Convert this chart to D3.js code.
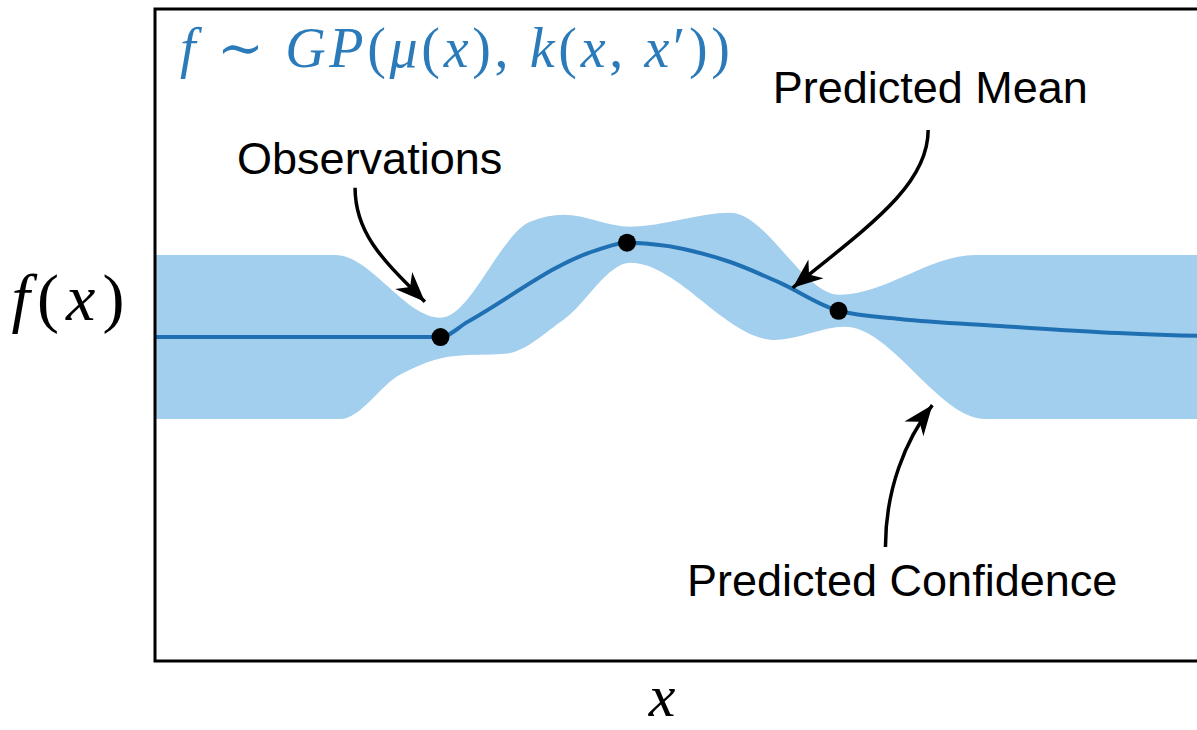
<!DOCTYPE html>
<html>
<head>
<meta charset="utf-8">
<script src="https://cdn.jsdelivr.net/npm/d3@7"></script>
<style>
  body { margin: 0; background: #fff; }
  svg { display: block; }
</style>
</head>
<body>
<div id="chart"></div>
<script>
// mean of the GP (knots)
var meanX = [0, 2.74, 3.00, 4.24, 4.53, 5.52, 6.00, 6.56, 7.15, 8.11, 9.07, 10];
var meanY = [0, 0, 0.37, 2.12, 2.30, 1.83, 1.32, 0.64, 0.44, 0.27, 0.12, 0.03];

// upper edge of the confidence band
var upperX = [0, 1.73, 2.74, 3.60, 3.92, 4.56, 5.52, 6.57, 7.87, 10];
var upperY = [2.0, 2.0, 0.47, 2.81, 2.98, 2.69, 3.03, 1.03, 2.0, 2.0];

// lower edge of the confidence band
var lowerX = [0, 1.78, 2.35, 2.88, 3.36, 3.92, 4.56, 5.95, 6.62, 7.97, 10];
var lowerY = [-2.0, -2.0, -0.92, -0.46, -0.41, 0.42, 1.81, -0.07, 0.25, -2.0, -2.0];

// observed points
var obsX = [2.74, 4.53, 6.56];
var obsY = [0, 2.30, 0.64];

// annotations: label position and arrow (start, two controls, tip)
var annoText = ["Observations", "Predicted Mean", "Predicted Confidence"];
var annoPos = [[2.06, 3.98], [7.44, 5.71], [7.17, -6.31]];
var annoArrow = [
    [[1.92, 3.64], [1.92, 2.49], [2.21, 1.83], [2.59, 0.86]],
    [[7.42, 5.05], [7.42, 3.71], [6.86, 2.73], [6.12, 1.20]],
    [[7.01, -5.12], [7.01, -3.73], [7.20, -2.51], [7.46, -1.66]]
];

var width = 1197, height = 730;
var plot = {left: 155, top: 9, bottom: 661};

var x = d3.scaleLinear().domain([0, 10]).range([plot.left, 1197]);
var y = d3.scaleLinear().domain([-7.9, 8]).range([plot.bottom, plot.top]);

var svg = d3.select("#chart").append("svg")
    .attr("width", width)
    .attr("height", height);

var defs = svg.append("defs");
defs.append("marker")
    .attr("id", "head")
    .attr("markerUnits", "userSpaceOnUse")
    .attr("viewBox", "-32 -14 34 28")
    .attr("markerWidth", 34)
    .attr("markerHeight", 28)
    .attr("refX", 0)
    .attr("refY", 0)
    .attr("orient", "auto")
    .append("path")
    .attr("d", "M0,0 L-30,-12 L-21,0 L-30,12 Z")
    .attr("fill", "#000");

var line = d3.line().curve(d3.curveMonotoneX);

// confidence band = region above the lower edge, clipped to below the upper edge
var upperPts = upperX.map(function(d, i){ return [x(d), y(upperY[i])]; });
var lowerPts = lowerX.map(function(d, i){ return [x(d), y(lowerY[i])]; });
defs.append("clipPath").attr("id", "belowUpper")
    .append("path")
    .attr("d", line(upperPts) + "L" + x(10) + "," + plot.bottom + "L" + x(0) + "," + plot.bottom + "Z");
svg.append("path")
    .attr("clip-path", "url(#belowUpper)")
    .attr("fill", "#a3cfee")
    .attr("d", line(lowerPts) + "L" + x(10) + "," + plot.top + "L" + x(0) + "," + plot.top + "Z");

// mean line
var meanPts = meanX.map(function(d, i){ return [x(d), y(meanY[i])]; });
svg.append("path")
    .attr("d", line(meanPts))
    .attr("fill", "none")
    .attr("stroke", "#1f70b3")
    .attr("stroke-width", 4);

// observations
svg.selectAll("circle.obs")
    .data(obsX)
    .enter()
    .append("circle")
    .attr("class", "obs")
    .attr("cx", function(d){ return x(d); })
    .attr("cy", function(d, i){ return y(obsY[i]); })
    .attr("r", 9)
    .attr("fill", "#000");

// arrows
svg.selectAll("path.arrow")
    .data(annoArrow)
    .enter()
    .append("path")
    .attr("class", "arrow")
    .attr("d", function(a){
        var p = d3.path();
        p.moveTo(x(a[0][0]), y(a[0][1]));
        p.bezierCurveTo(x(a[1][0]), y(a[1][1]), x(a[2][0]), y(a[2][1]), x(a[3][0]), y(a[3][1]));
        return p.toString();
    })
    .attr("fill", "none")
    .attr("stroke", "#000")
    .attr("stroke-width", 3.5)
    .attr("marker-end", "url(#head)");

svg.selectAll("text.anno")
    .data(annoText)
    .enter()
    .append("text")
    .attr("class", "anno")
    .attr("x", function(d, i){ return x(annoPos[i][0]); })
    .attr("y", function(d, i){ return y(annoPos[i][1]); })
    .attr("text-anchor", "middle")
    .attr("font-family", "'Liberation Sans', Arial, sans-serif")
    .attr("font-size", "45px")
    .attr("fill", "#000")
    .text(function(d){ return d; });

// frame (right side runs off the picture)
svg.append("rect")
    .attr("x", plot.left)
    .attr("y", plot.top)
    .attr("width", 1200 - plot.left)
    .attr("height", plot.bottom - plot.top)
    .attr("fill", "none")
    .attr("stroke", "#000")
    .attr("stroke-width", 3);

// math title
var serif = "'Liberation Serif', 'DejaVu Serif', serif";
var title = svg.append("text")
    .attr("x", plot.left + 25)
    .attr("y", 67)
    .attr("font-family", serif)
    .attr("font-size", "56px")
    .attr("fill", "#2b7bba")
    .attr("textLength", 550)
    .attr("lengthAdjust", "spacing");
var parts = [["f", 1], [" \u223C ", 0], ["GP", 1], ["(", 0], ["\u03BC", 1], ["(", 0], ["x", 1], ["), ", 0],
             ["k", 1], ["(", 0], ["x", 1], [", ", 0], ["x", 1], ["\u2032))", 0]];
parts.forEach(function(p){
    title.append("tspan")
        .attr("font-style", p[1] ? "italic" : "normal")
        .text(p[0]);
});

// axis labels
var ylab = svg.append("text")
    .attr("x", 68)
    .attr("y", 320)
    .attr("text-anchor", "middle")
    .attr("font-family", serif)
    .attr("font-size", "66px")
    .attr("fill", "#000")
    .attr("textLength", 113)
    .attr("lengthAdjust", "spacing");
ylab.append("tspan").attr("font-style", "italic").text("f");
ylab.append("tspan").text("(");
ylab.append("tspan").attr("font-style", "italic").text("x");
ylab.append("tspan").text(")");

svg.append("text")
    .attr("x", 662)
    .attr("y", 716)
    .attr("text-anchor", "middle")
    .attr("font-family", serif)
    .attr("font-style", "italic")
    .attr("font-size", "60px")
    .attr("fill", "#000")
    .text("x");
</script>
</body>
</html>
